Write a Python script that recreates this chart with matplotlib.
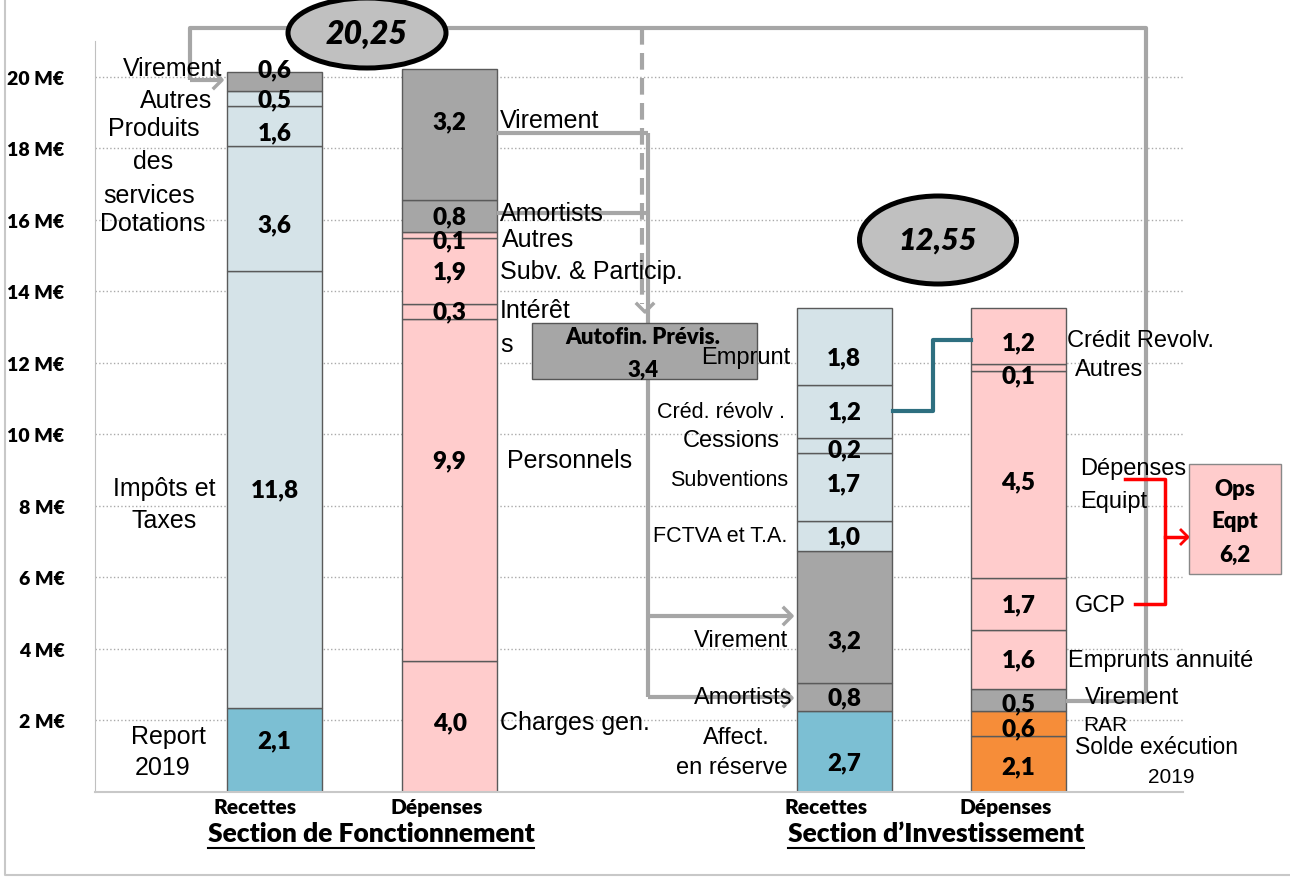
import matplotlib
matplotlib.use('Agg')
import matplotlib.pyplot as plt
from matplotlib.patches import Ellipse, Rectangle

plt.rcParams['font.family'] = ['Liberation Sans', 'DejaVu Sans']
BOLD = ['Lato', 'DejaVu Sans']
HEAVY = 'heavy'

# ---- data (M EUR), stacked bottom -> top ----
fonct_rec_h = [2.35, 12.22, 3.49, 1.12, 0.42, 0.54]
fonct_rec_lab = ['2,1', '11,8', '3,6', '1,6', '0,5', '0,6']
fonct_dep_h = [3.67, 9.56, 0.42, 1.83, 0.19, 0.87, 3.68]
fonct_dep_lab = ['4,0', '9,9', '0,3', '1,9', '0,1', '0,8', '3,2']
inv_rec_h = [2.26, 0.79, 3.68, 0.84, 1.90, 0.43, 1.49, 2.13]
inv_rec_lab = ['2,7', '0,8', '3,2', '1,0', '1,7', '0,2', '1,2', '1,8']
inv_dep_h = [1.57, 0.69, 0.61, 1.67, 1.44, 5.79, 0.19, 1.56]
inv_dep_lab = ['2,1', '0,6', '0,5', '1,6', '1,7', '4,5', '0,1', '1,2']

yticks = [2, 4, 6, 8, 10, 12, 14, 16, 18, 20]
ytick_lab = ['%d M€' % v for v in yticks]

# colours
BLUE = '#7cbfd3'
LIGHT = '#d5e3e8'
GREY = '#a6a6a6'
PINK = '#ffcccc'
ORANGE = '#f68d39'

fonct_rec_col = [BLUE, LIGHT, LIGHT, LIGHT, LIGHT, GREY]
fonct_dep_col = [PINK, PINK, PINK, PINK, PINK, GREY, GREY]
inv_rec_col = [BLUE, GREY, GREY, LIGHT, LIGHT, LIGHT, LIGHT, LIGHT]
inv_dep_col = [ORANGE, ORANGE, GREY, PINK, PINK, PINK, PINK, PINK]

# label nudges in pixels (down positive)
fonct_rec_off = [-10, 0, 16, 6, 1, -12]
fonct_dep_off = [-4, -29, 0, 0, 5, 0, -13]
inv_rec_off = [11, 0, 23, 0, -4, 4, 0, 11]
inv_dep_off = [2, 5, 3, 0, 0, 7, 8, 6]

bar_pos = [0, 1, 3.255, 4.25]
W = 0.545

fig = plt.figure(figsize=(12.9, 8.78), dpi=100)
ax = fig.add_axes([95 / 1290, 85 / 878, 1088 / 1290, 751 / 878])
ax.set_xlim(-1.026, 5.19)
ax.set_ylim(0, 21.0)


def stack(pos, heights, cols, labs, offs):
    bottom = 0
    for h, c, lab, off in zip(heights, cols, labs, offs):
        ax.bar(pos, h, bottom=bottom, width=W, color=c, edgecolor='#5a5a5a',
               linewidth=1, zorder=2)
        ax.annotate(lab, (pos, bottom + h / 2), xytext=(0, -off * 0.72),
                    textcoords='offset points', ha='center', va='center',
                    fontsize=17.5, fontweight=HEAVY, family=BOLD, zorder=5)
        bottom += h


stack(bar_pos[0], fonct_rec_h, fonct_rec_col, fonct_rec_lab, fonct_rec_off)
stack(bar_pos[1], fonct_dep_h, fonct_dep_col, fonct_dep_lab, fonct_dep_off)
stack(bar_pos[2], inv_rec_h, inv_rec_col, inv_rec_lab, inv_rec_off)
stack(bar_pos[3], inv_dep_h, inv_dep_col, inv_dep_lab, inv_dep_off)

ax.set_yticks(yticks)
ax.set_yticklabels(ytick_lab, fontsize=14, fontweight=HEAVY, family=BOLD)
ax.tick_params(axis='y', length=0, pad=22)
ax.set_xticks([])
ax.grid(axis='y', linestyle=':', color='#aaaaaa', linewidth=1, zorder=0)
ax.set_axisbelow(True)
for s in ['top', 'right']:
    ax.spines[s].set_visible(False)
ax.spines['left'].set_color('#c0c0c0')
ax.spines['bottom'].set_color('#c8c8c8')
ax.spines['bottom'].set_linewidth(1.5)
ax.patch.set_alpha(0)

# ---- overlay in pixel coordinates ----
ov = fig.add_axes([0, 0, 1, 1], zorder=3)
ov.set_xlim(0, 1290)
ov.set_ylim(878, 0)
ov.axis('off')
ov.patch.set_alpha(0)

LG = dict(color='#a6a6a6', lw=3, solid_capstyle='butt', zorder=1)


def chevron(x, y, d, s=8, color='#a6a6a6', lw=2.5):
    if d == 'right':
        ov.plot([x - s, x, x - s], [y - s, y, y + s], color=color, lw=lw, zorder=1)
    else:
        ov.plot([x - s, x, x + s], [y - s, y, y - s], color=color, lw=lw, zorder=1)


# top grey connector
ov.plot([190, 190, 1146, 1146, 1066], [81, 29, 29, 702, 702], **LG)
ov.plot([190, 220], [81, 81], **LG)
chevron(222, 81, 'right')
ov.plot([642, 642], [29, 305], color='#a6a6a6', lw=3, ls=(0, (4, 2)), zorder=1)
ov.plot([497, 648], [134, 134], **LG)
ov.plot([497, 648], [214, 214], **LG)
ov.plot([648, 648], [134, 698], **LG)
ov.plot([648, 790], [617, 617], **LG)
ov.plot([648, 790], [698, 698], **LG)
chevron(792, 617, 'right')
chevron(792, 699, 'right')
chevron(645, 313, 'down')

# autofin box
ov.add_patch(Rectangle((532, 324), 225, 56, facecolor='#a6a6a6',
                       edgecolor='#555555', lw=1, zorder=2))
ov.text(643, 338, 'Autofin. Prévis.', ha='center', va='center', fontsize=16,
        fontweight=HEAVY, family=BOLD, zorder=4)
ov.text(643, 370, '3,4', ha='center', va='center', fontsize=16,
        fontweight=HEAVY, family=BOLD, zorder=4)

# teal connector
ov.plot([893, 933, 933, 971], [412, 412, 341, 341], color='#2e6f80', lw=3,
        zorder=1)

# red bracket
RED = '#ff0000'
ov.plot([1125, 1165, 1165, 1135], [480, 480, 605, 605], color=RED, lw=2.5, zorder=4)
ov.plot([1165, 1186], [538, 538], color=RED, lw=2.5, zorder=4)
chevron(1188, 538, 'right', s=7, color=RED, lw=2)

# ops eqpt box
ov.add_patch(Rectangle((1189, 465), 92, 110, facecolor=PINK,
                       edgecolor='#888888', lw=1, zorder=2))
for t, yy in [('Ops', 490), ('Eqpt', 522), ('6,2', 555)]:
    ov.text(1235, yy, t, ha='center', va='center', fontsize=16,
            fontweight=HEAVY, family=BOLD, zorder=4)

# ellipses
ov.add_patch(Ellipse((367, 34), 158, 70, facecolor='#c0c0c0', edgecolor='black',
                     lw=3.6, zorder=3))
ov.text(367, 34, '20,25', ha='center', va='center', fontsize=23,
        fontweight=HEAVY, fontstyle='italic', family=BOLD, zorder=4)
ov.add_patch(Ellipse((938, 241), 157, 88, facecolor='#c0c0c0', edgecolor='black',
                     lw=3.6, zorder=3))
ov.text(938, 241, '12,55', ha='center', va='center', fontsize=22,
        fontweight=HEAVY, fontstyle='italic', family=BOLD, zorder=4)

# category labels (text, x, y, ha, size)
cat_labels = [
    ('Virement', 222, 69, 'right', 18), ('Autres', 212, 101, 'right', 18),
    ('Produits', 154, 129, 'center', 18), ('des', 153, 162, 'center', 18),
    ('services', 149, 196, 'center', 18), ('Dotations', 153, 224, 'center', 18),
    ('Impôts et', 164, 489, 'center', 18), ('Taxes', 164, 521, 'center', 18),
    ('Report', 168, 737, 'center', 18), ('2019', 163, 768, 'center', 18),
    ('Virement', 500, 121, 'left', 18), ('Amortists', 500, 214, 'left', 18),
    ('Autres', 502, 240, 'left', 18), ('Subv. & Particip.', 500, 272, 'left', 18),
    ('Intérêt', 500, 311, 'left', 18), ('s', 500, 345, 'left', 18),
    ('Personnels', 507, 461, 'left', 18), ('Charges gen.', 500, 723, 'left', 18),
    ('Emprunt', 790, 358, 'right', 17), ('Créd. révolv .', 785, 413, 'right', 15.5),
    ('Cessions', 780, 441, 'right', 17), ('Subventions', 788, 481, 'right', 15.5),
    ('FCTVA et T.A.', 787, 537, 'right', 15.5), ('Virement', 788, 641, 'right', 17),
    ('Amortists', 792, 698, 'right', 17), ('Affect.', 736, 738, 'center', 17),
    ('en réserve', 732, 768, 'center', 17),
    ('Crédit Revolv.', 1067, 341, 'left', 17), ('Autres', 1075, 370, 'left', 17),
    ('Dépenses', 1080, 469, 'left', 17), ('Equipt', 1080, 502, 'left', 17),
    ('GCP', 1075, 606, 'left', 17), ('Emprunts annuité', 1068, 661, 'left', 17),
    ('Virement', 1085, 698, 'left', 17), ('RAR', 1083, 726, 'left', 15),
    ('Solde exécution', 1075, 748, 'left', 16.5), ('2019', 1171, 778, 'center', 15),
]
for t, x, y, ha, fs in cat_labels:
    ov.text(x, y, t, ha=ha, va='center', fontsize=fs, zorder=5)

# bottom labels
for t, x in [('Recettes', 255), ('Dépenses', 437), ('Recettes', 826), ('Dépenses', 1006)]:
    ov.text(x, 808, t, ha='center', va='center', fontsize=15,
            fontweight=HEAVY, family=BOLD)

titles = []
for t, x in [('Section de Fonctionnement', 371), ('Section d’Investissement', 936)]:
    titles.append(ov.text(x, 834, t, ha='center', va='center', fontsize=19,
                          fontweight=HEAVY, family=BOLD))
fig.canvas.draw()
for t in titles:
    bb = t.get_window_extent()
    ov.plot([bb.x0, bb.x1], [849, 849], color='black', lw=1.5)

# outer frame
ov.plot([5, 5, 1290], [0, 876, 876], color='#c8c8c8', lw=1.5)

fig.savefig('out.png', dpi=100)
